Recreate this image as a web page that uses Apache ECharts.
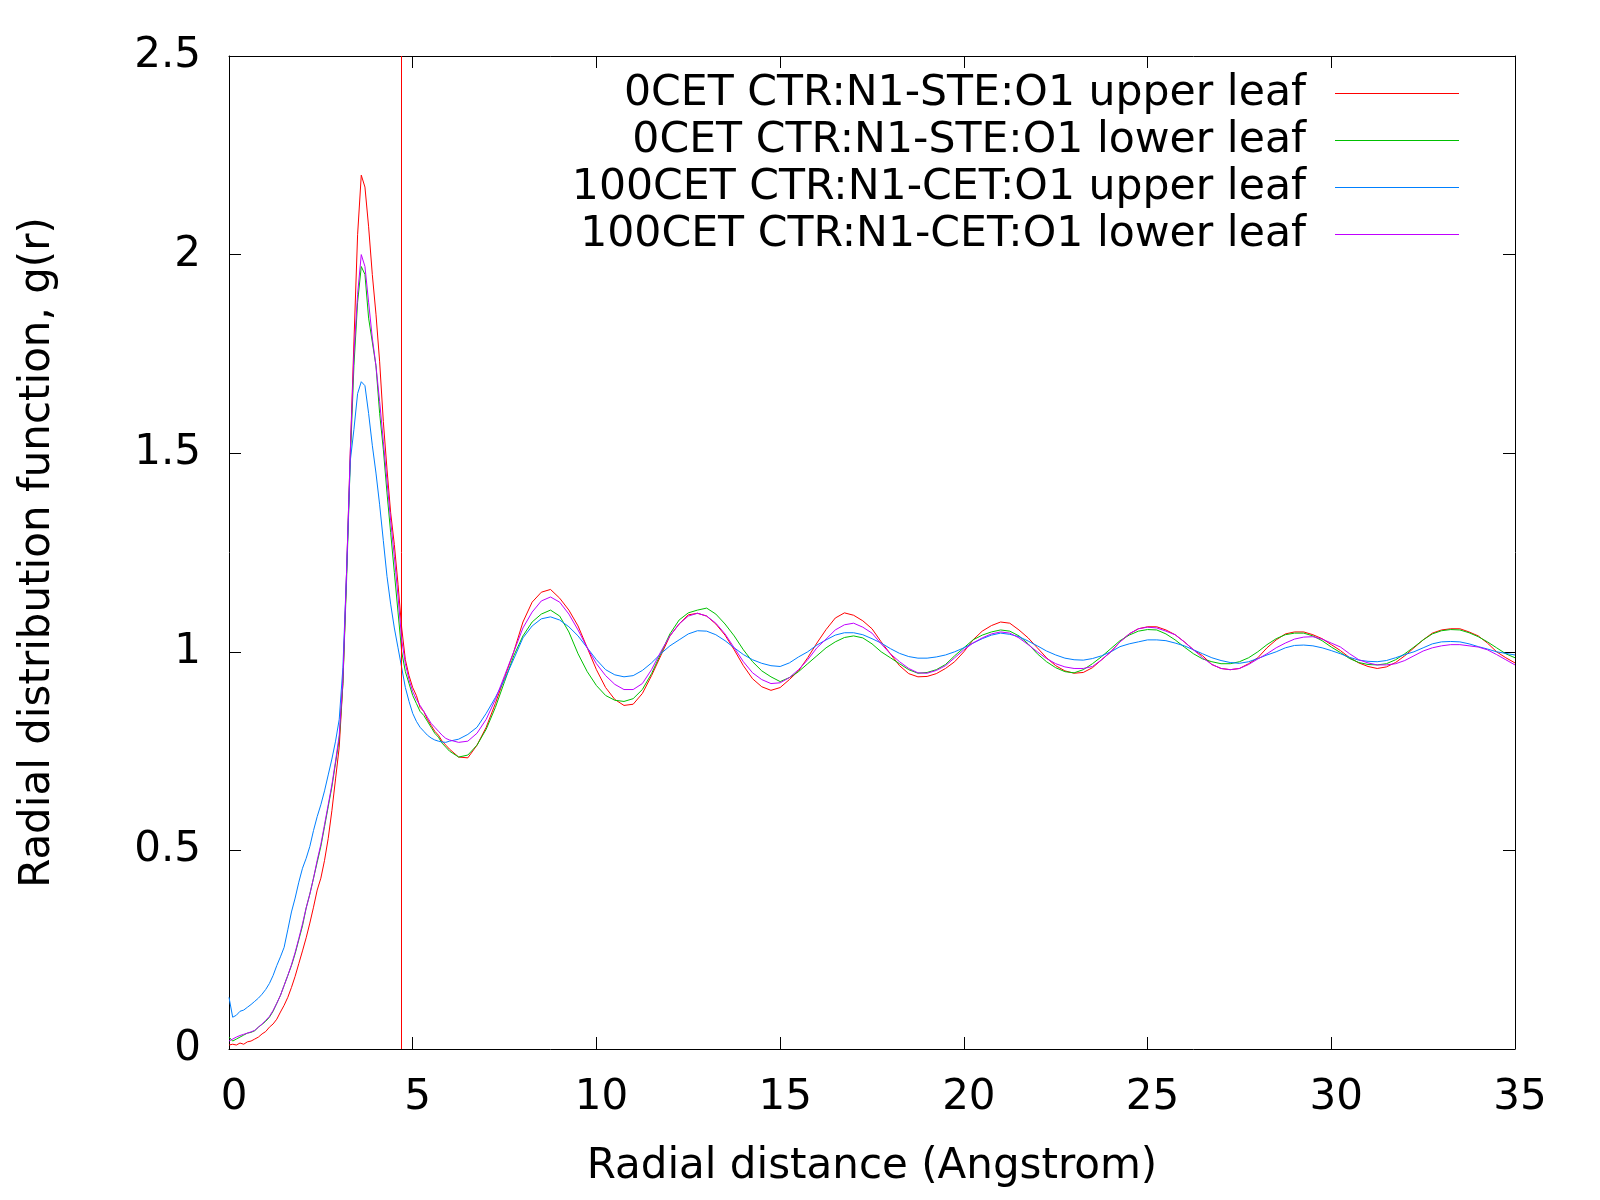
<!DOCTYPE html>
<html>
<head>
<meta charset="utf-8">
<script src="https://cdn.jsdelivr.net/npm/echarts@6/dist/echarts.min.js"></script>
<style>
  html, body { margin: 0; padding: 0; background: #fff; }
  #chart { width: 1600px; height: 1200px; }
</style>
</head>
<body>
<div id="chart"></div>
<script>
// Radial distance grid (Angstrom)
const rPeak = [0,
  0.1,0.2,0.3,0.4,0.5,0.6,0.7,0.8,0.9,1.0,
  1.1,1.2,1.3,1.4,1.5,1.6,1.7,1.8,1.9,2.0,
  2.1,2.2,2.3,2.4,2.5,2.6,2.7,2.8,2.9,3.0,
  3.1,3.2,3.3,3.4,3.5,3.6,3.7,3.8,3.9,4.0,
  4.1,4.2,4.3,4.4,4.5,4.6,4.7,4.8,4.9,5.0,
  5.1,5.2,5.3,5.4,5.5,5.6,5.7,5.8,5.9,6.0];
const rTail = [
  6.25,6.5,6.75,7, 7.25,7.5,7.75,8, 8.25,8.5,8.75,9, 9.25,9.5,9.75,10,
  10.25,10.5,10.75,11, 11.25,11.5,11.75,12, 12.25,12.5,12.75,13, 13.25,13.5,13.75,14,
  14.25,14.5,14.75,15, 15.25,15.5,15.75,16, 16.25,16.5,16.75,17, 17.25,17.5,17.75,18,
  18.25,18.5,18.75,19, 19.25,19.5,19.75,20, 20.25,20.5,20.75,21, 21.25,21.5,21.75,22,
  22.25,22.5,22.75,23, 23.25,23.5,23.75,24, 24.25,24.5,24.75,25, 25.25,25.5,25.75,26,
  26.25,26.5,26.75,27, 27.25,27.5,27.75,28, 28.25,28.5,28.75,29, 29.25,29.5,29.75,30,
  30.25,30.5,30.75,31, 31.25,31.5,31.75,32, 32.25,32.5,32.75,33, 33.25,33.5,33.75,34,
  34.25,34.5,34.75,35];

const seriesNames = [
  '0CET CTR:N1-STE:O1 upper leaf',
  '0CET CTR:N1-STE:O1 lower leaf',
  '100CET CTR:N1-CET:O1 upper leaf',
  '100CET CTR:N1-CET:O1 lower leaf'
];
const seriesColors = ['#ff0000', '#00c000', '#0080ff', '#c000ff'];

// 0CET upper leaf (red)
const redPeak = [0.01,
  0.012,0.01,0.015,0.012,0.018,0.02,0.025,0.03,0.038,0.044,
  0.055,0.063,0.075,0.093,0.11,0.13,0.155,0.183,0.215,0.247,
  0.28,0.317,0.357,0.40,0.43,0.475,0.53,0.60,0.68,0.76,
  0.92,1.2,1.5,1.78,2.05,2.2,2.17,2.07,1.95,1.85,
  1.73,1.58,1.46,1.35,1.27,1.17,1.06,0.98,0.94,0.91,
  0.89,0.86,0.85,0.83,0.815,0.80,0.79,0.775,0.765,0.755];
const redTail = [
  0.735,0.733,0.765,0.81, 0.87,0.935,1.0,1.075, 1.125,1.15,1.157,1.135, 1.105,1.065,1.01,0.955,
  0.91,0.88,0.865,0.868, 0.895,0.94,0.99,1.04, 1.07,1.093,1.097,1.09, 1.07,1.042,1.005,0.965,
  0.932,0.912,0.903,0.91, 0.93,0.952,0.985,1.022, 1.056,1.085,1.098,1.092, 1.078,1.058,1.025,0.995,
  0.965,0.945,0.937,0.938, 0.945,0.958,0.975,1.0, 1.03,1.052,1.066,1.075, 1.072,1.055,1.035,1.01,
  0.985,0.965,0.952,0.946, 0.948,0.96,0.98,1.0, 1.025,1.045,1.058,1.063, 1.063,1.055,1.043,1.025,
  1.005,0.99,0.968,0.958, 0.955,0.958,0.97,0.985, 1.01,1.03,1.045,1.05, 1.05,1.043,1.033,1.018,
  1.003,0.985,0.972,0.963, 0.958,0.962,0.973,0.99, 1.01,1.03,1.047,1.055, 1.058,1.058,1.05,1.04,
  1.022,1.0,0.985,0.972];

// 0CET lower leaf (green)
const greenPeak = [0.03,
  0.02,0.025,0.03,0.035,0.04,0.042,0.046,0.055,0.062,0.07,
  0.08,0.095,0.115,0.135,0.16,0.185,0.21,0.24,0.275,0.31,
  0.355,0.39,0.43,0.47,0.51,0.56,0.61,0.66,0.72,0.78,
  0.92,1.18,1.48,1.72,1.88,1.97,1.95,1.84,1.78,1.72,
  1.60,1.51,1.40,1.30,1.20,1.10,1.0,0.95,0.92,0.89,
  0.87,0.85,0.84,0.825,0.81,0.795,0.785,0.77,0.76,0.75];
const greenTail = [
  0.735,0.74,0.765,0.805, 0.86,0.925,0.99,1.04, 1.075,1.095,1.105,1.09, 1.05,0.995,0.95,0.915,
  0.89,0.878,0.875,0.882, 0.905,0.945,0.995,1.045, 1.08,1.098,1.105,1.11, 1.095,1.07,1.04,1.005,
  0.975,0.952,0.937,0.925, 0.935,0.95,0.97,0.99, 1.01,1.025,1.036,1.04, 1.035,1.02,1.0,0.985,
  0.97,0.955,0.946,0.948, 0.955,0.968,0.99,1.01, 1.03,1.042,1.05,1.055, 1.052,1.04,1.02,0.995,
  0.975,0.96,0.95,0.947, 0.955,0.97,0.988,1.008, 1.028,1.042,1.052,1.056, 1.055,1.045,1.03,1.012,
  0.995,0.982,0.975,0.97, 0.97,0.975,0.985,1.0, 1.018,1.033,1.043,1.047, 1.047,1.04,1.028,1.012,
  0.998,0.983,0.973,0.968, 0.967,0.97,0.98,0.995, 1.012,1.03,1.045,1.053, 1.056,1.055,1.048,1.038,
  1.025,1.01,0.995,0.985];

// 100CET upper leaf (blue)
const bluePeak = [0.13,
  0.08,0.085,0.095,0.098,0.105,0.112,0.12,0.128,0.138,0.15,
  0.165,0.185,0.21,0.232,0.256,0.3,0.345,0.38,0.42,0.455,
  0.48,0.51,0.55,0.585,0.615,0.65,0.69,0.73,0.775,0.83,
  0.96,1.2,1.48,1.56,1.65,1.68,1.67,1.6,1.52,1.45,
  1.37,1.28,1.19,1.12,1.06,1.01,0.96,0.91,0.875,0.845,
  0.825,0.81,0.8,0.79,0.783,0.778,0.775,0.773,0.772,0.775];
const blueTail = [
  0.78,0.792,0.81,0.845, 0.885,0.93,0.982,1.035, 1.065,1.083,1.088,1.08, 1.063,1.04,1.01,0.98,
  0.955,0.942,0.937,0.94, 0.953,0.972,0.995,1.015, 1.03,1.045,1.053,1.052, 1.043,1.028,1.01,0.993,
  0.98,0.971,0.965,0.963, 0.972,0.987,1.0,1.017, 1.03,1.042,1.048,1.048, 1.043,1.033,1.022,1.008,
  0.996,0.988,0.984,0.984, 0.987,0.992,1.0,1.01, 1.022,1.033,1.042,1.047, 1.044,1.038,1.027,1.015,
  1.002,0.992,0.984,0.98, 0.979,0.983,0.99,1.0, 1.013,1.02,1.025,1.03, 1.03,1.028,1.022,1.015,
  1.005,0.995,0.985,0.978, 0.973,0.971,0.975,0.983, 0.992,1.0,1.01,1.016, 1.017,1.015,1.01,1.003,
  0.995,0.986,0.979,0.976, 0.975,0.978,0.985,0.993, 1.0,1.01,1.02,1.025, 1.026,1.025,1.02,1.013,
  1.007,1.0,0.996,0.992];

// 100CET lower leaf (magenta)
const magentaPeak = [0.02,
  0.025,0.03,0.034,0.037,0.04,0.043,0.047,0.055,0.063,0.072,
  0.082,0.097,0.115,0.135,0.16,0.185,0.212,0.243,0.278,0.315,
  0.355,0.39,0.43,0.475,0.515,0.565,0.615,0.665,0.725,0.79,
  0.93,1.2,1.5,1.75,1.9,2.0,1.97,1.88,1.79,1.72,
  1.63,1.53,1.43,1.33,1.24,1.14,1.03,0.97,0.93,0.9,
  0.88,0.865,0.85,0.835,0.82,0.81,0.8,0.79,0.782,0.778];
const magentaTail = [
  0.772,0.775,0.795,0.83, 0.88,0.94,1.0,1.06, 1.1,1.128,1.138,1.125, 1.095,1.055,1.01,0.97,
  0.94,0.918,0.905,0.905, 0.92,0.955,1.0,1.04, 1.07,1.09,1.097,1.09, 1.072,1.045,1.01,0.975,
  0.947,0.93,0.92,0.922, 0.935,0.955,0.98,1.01, 1.032,1.055,1.068,1.072, 1.062,1.047,1.02,0.995,
  0.975,0.958,0.947,0.946, 0.953,0.965,0.985,1.005, 1.022,1.035,1.045,1.05, 1.047,1.035,1.018,1.0,
  0.983,0.97,0.962,0.958, 0.958,0.963,0.98,1.0, 1.025,1.045,1.058,1.062, 1.06,1.052,1.043,1.025,
  1.005,0.985,0.968,0.958, 0.955,0.958,0.968,0.982, 0.995,1.01,1.022,1.032, 1.037,1.038,1.032,1.022,
  1.012,0.995,0.98,0.972, 0.967,0.967,0.97,0.978, 0.99,1.002,1.01,1.015, 1.018,1.018,1.015,1.012,
  1.005,0.993,0.98,0.967];

const verticalMarker = [4.68];
const xTicks = [0, 35, 5];      // min, max, interval
const yTicks = [0, 2.5, 0.5];   // min, max, interval

const r = rPeak.concat(rTail);
const values = [
  redPeak.concat(redTail),
  greenPeak.concat(greenTail),
  bluePeak.concat(blueTail),
  magentaPeak.concat(magentaTail)
];

const FONT = 'DejaVu Sans';
const chart = echarts.init(document.getElementById('chart'), null, { renderer: 'canvas' });

const series = values.map(function (vals, i) {
  const s = {
    name: seriesNames[i],
    type: 'line',
    data: r.map(function (x, k) { return [x, vals[k]]; }),
    symbol: 'none',
    showSymbol: false,
    legendIcon: 'rect',
    lineStyle: { color: seriesColors[i], width: 1 },
    itemStyle: { color: seriesColors[i] },
    emphasis: { disabled: true },
    animation: false,
    z: 2 + i
  };
  if (i === 0) {
    s.markLine = {
      silent: true,
      symbol: ['none', 'none'],
      label: { show: false },
      lineStyle: { color: '#ff0000', width: 1, type: 'solid' },
      data: verticalMarker.map(function (v) { return { xAxis: v }; }),
      animation: false
    };
  }
  return s;
});

const axisCommon = {
  type: 'value',
  axisLine: { show: true, onZero: false, lineStyle: { color: '#000', width: 1 } },
  axisTick: { show: true, inside: true, length: 12, lineStyle: { color: '#000', width: 1 } },
  splitLine: { show: false }
};

chart.setOption({
  backgroundColor: '#fff',
  animation: false,
  textStyle: { fontFamily: FONT },
  grid: { left: 229, top: 56, width: 1286, height: 993, containLabel: false },
  legend: {
    data: seriesNames,
    orient: 'vertical',
    align: 'right',
    right: 141,
    top: 70,
    padding: 0,
    itemGap: 0,
    itemWidth: 124,
    itemHeight: 1,
    icon: 'rect',
    selectedMode: false,
    textStyle: { fontFamily: FONT, fontSize: 42.6, color: '#000', lineHeight: 47, padding: [0, 24, 0, 0] }
  },
  xAxis: [
    Object.assign({}, axisCommon, {
      position: 'bottom', min: xTicks[0], max: xTicks[1], interval: xTicks[2],
      name: 'Radial distance (Angstrom)', nameLocation: 'middle', nameGap: 97,
      nameTextStyle: { fontFamily: FONT, fontSize: 42, color: '#000' },
      axisLabel: { fontFamily: FONT, fontSize: 42, color: '#000', margin: 28, padding: [0, 0, 0, 10] }
    }),
    Object.assign({}, axisCommon, {
      position: 'top', min: xTicks[0], max: xTicks[1], interval: xTicks[2],
      axisLabel: { show: false }
    })
  ],
  yAxis: [
    Object.assign({}, axisCommon, {
      position: 'left', min: yTicks[0], max: yTicks[1], interval: yTicks[2],
      name: 'Radial distribution function, g(r)', nameLocation: 'middle', nameGap: 170, nameRotate: 90,
      nameTextStyle: { fontFamily: FONT, fontSize: 42, color: '#000' },
      axisLabel: { fontFamily: FONT, fontSize: 42, color: '#000', margin: 28 }
    }),
    Object.assign({}, axisCommon, {
      position: 'right', min: yTicks[0], max: yTicks[1], interval: yTicks[2],
      axisLabel: { show: false }
    })
  ],
  series: series
});
</script>
</body>
</html>
